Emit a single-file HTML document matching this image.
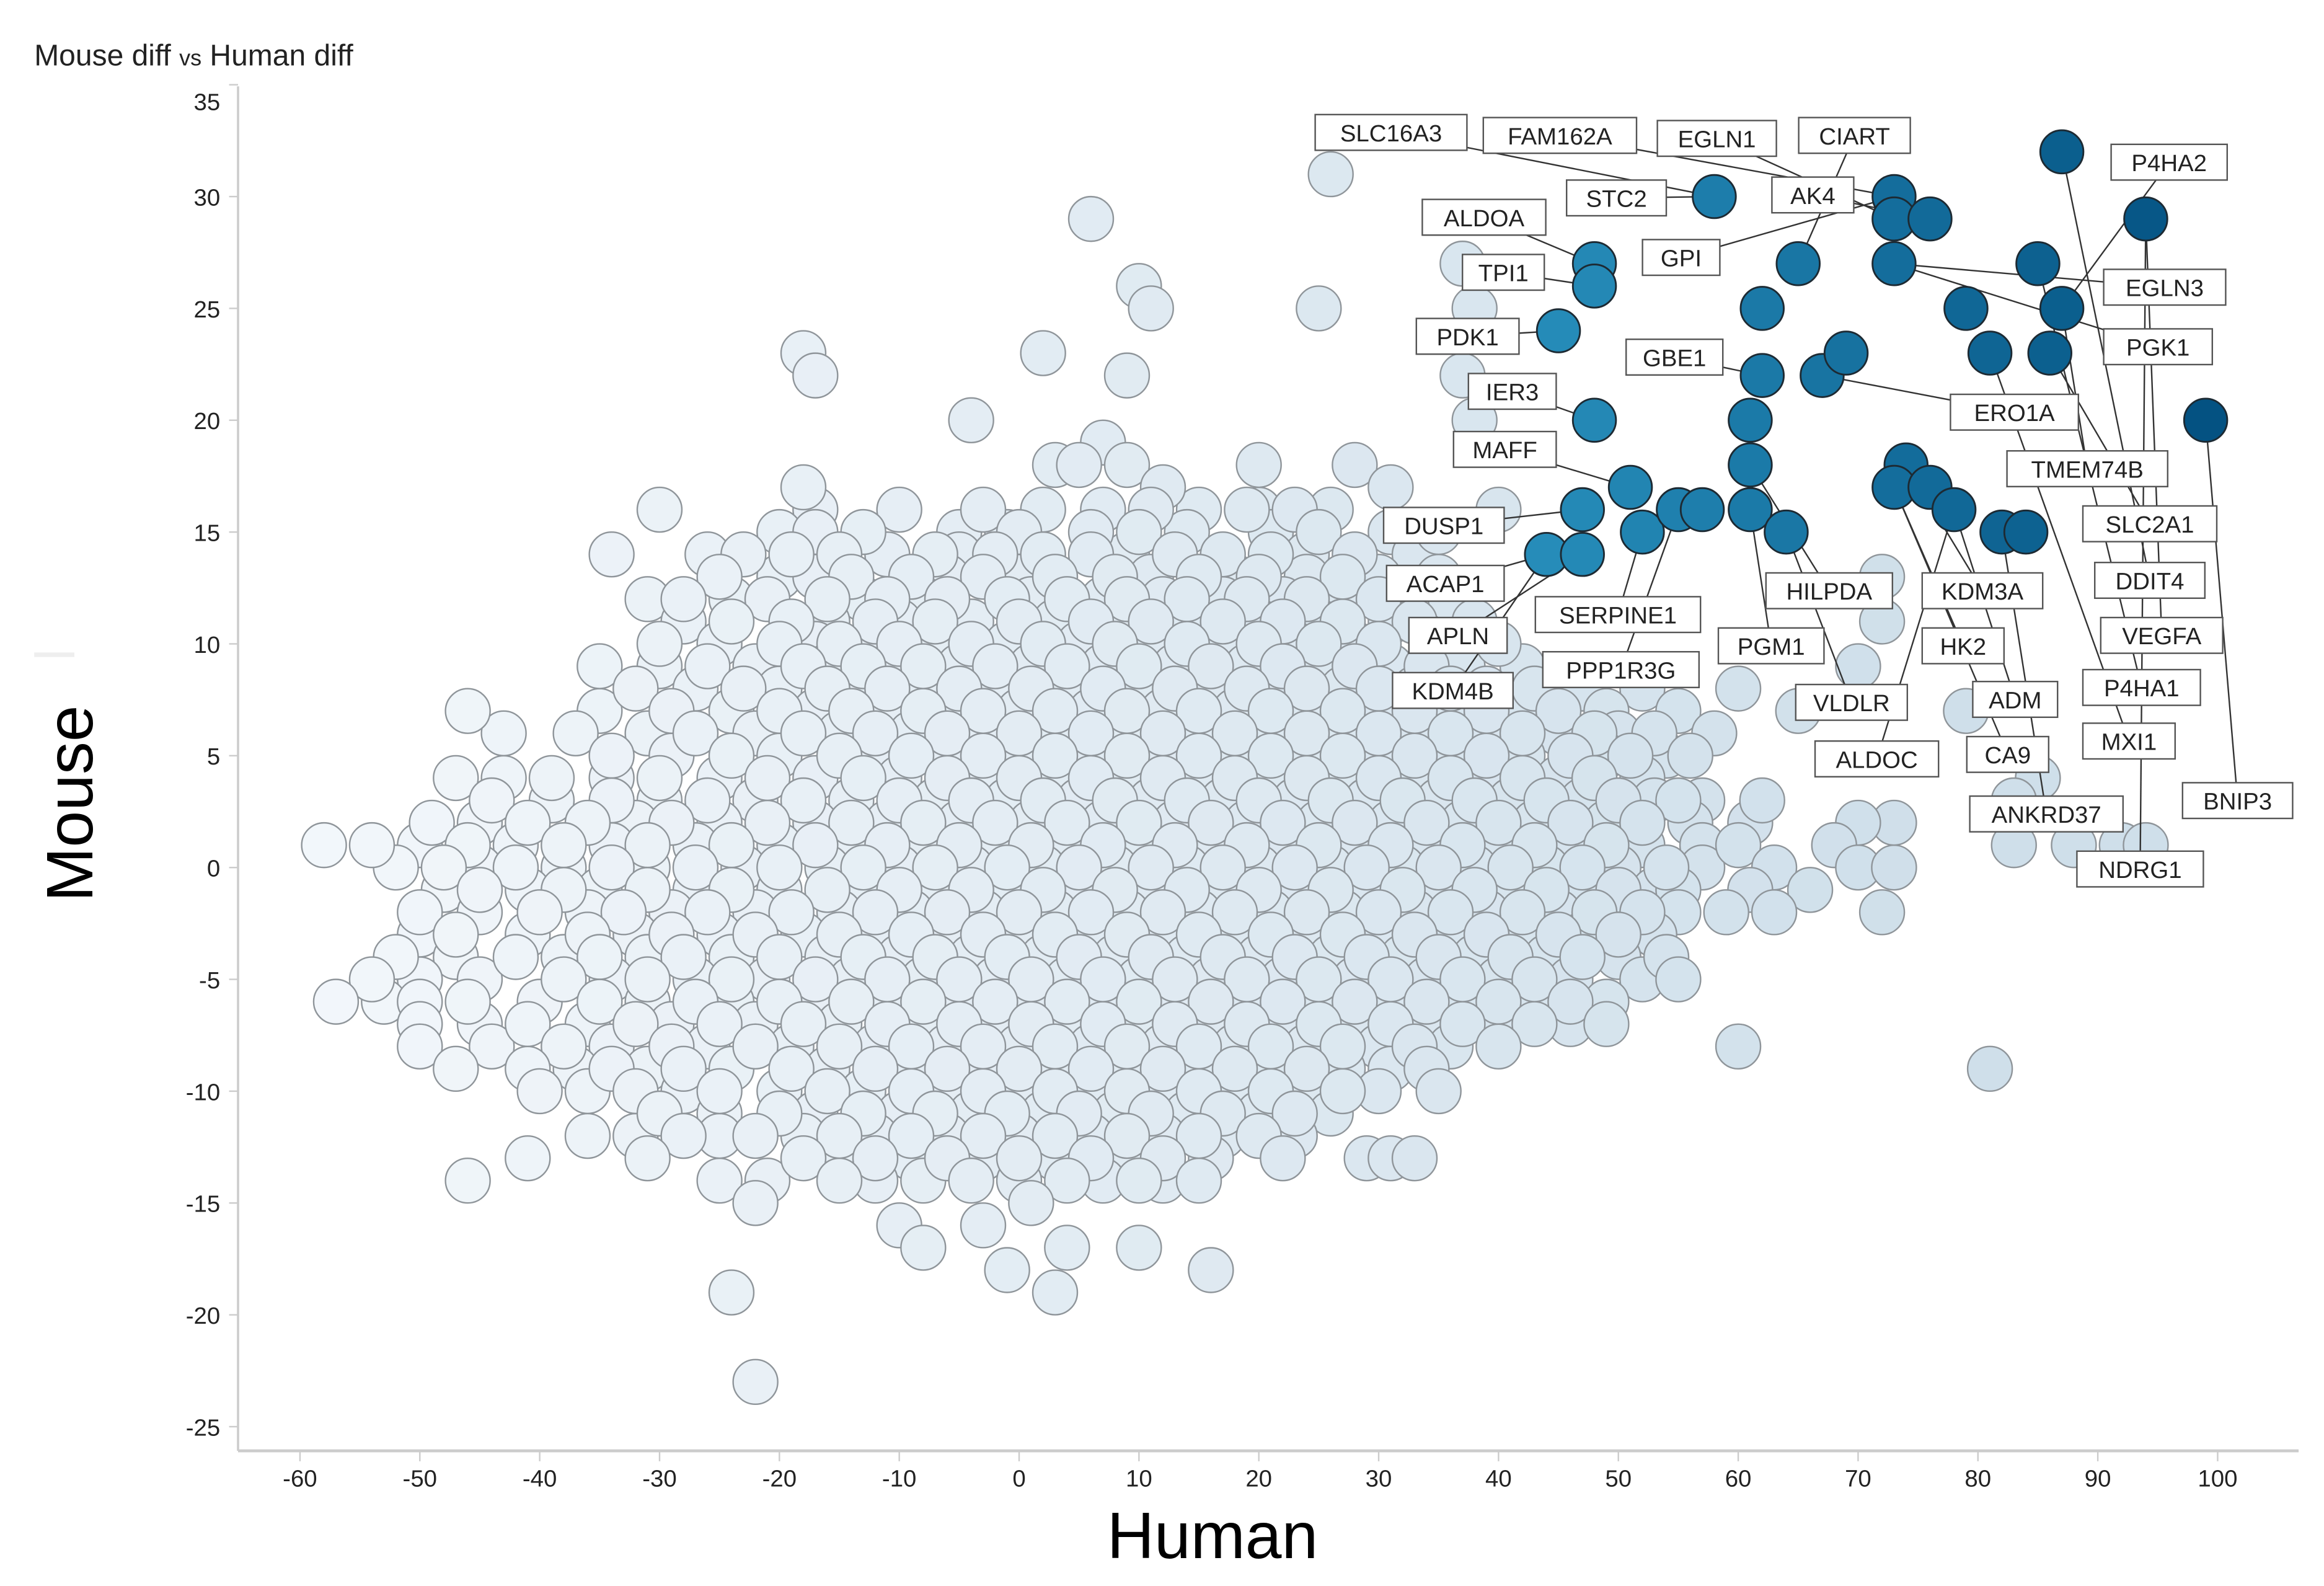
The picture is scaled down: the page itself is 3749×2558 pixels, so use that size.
<!DOCTYPE html>
<html><head><meta charset="utf-8">
<style>
html,body{margin:0;padding:0;background:#fff;}
svg{display:block;font-family:"Liberation Sans",Arial,sans-serif;}
</style></head>
<body>
<svg id="chart" width="3749" height="2558" viewBox="0 0 1562.08 1065.83" xmlns="http://www.w3.org/2000/svg">
<text x="23" y="44" font-size="20" fill="#222">Mouse diff <tspan font-size="15">vs</tspan> Human diff</text>
<g id="axes"></g>
<g id="bg"></g>
<g id="links"></g>
<g id="hl"></g>
<g id="labels"></g>
<text transform="translate(62,540) rotate(-90)" text-anchor="middle" font-size="44" fill="#000">Mouse</text>
<text x="815" y="1047" text-anchor="middle" font-size="44" fill="#000">Human</text>
<line x1="23" y1="440" x2="50" y2="440" stroke="#eee" stroke-width="3"/>
</svg>
<script>
const xTicks=[-60,-50,-40,-30,-20,-10,0,10,20,30,40,50,60,70,80,90,100];
const yTicks=[35,30,25,20,15,10,5,0,-5,-10,-15,-20,-25];
// background rows: y value followed by x values
const bgRows=[
"31:26","29:6","26:10","25:11,25,38","27:37","23:-18,2","22:-17,9,37","20:-4,38","19:7","18:3,5,9,20,28",
"17:-18,12,31","16:-30,-10,-3,11,19,23,40","15:-17,-13,0,6,10,25,35",
"14:-34,-23,-19,-15,-7,-2,2,6,13,17,21,28","13:-25,-14,-9,-3,3,8,15,20,27,72",
"12:-28,-21,-16,-11,-6,-1,4,9,14,19,24,30","11:-24,-19,-12,-7,0,6,11,17,22,27,33,72",
"10:-30,-20,-15,-10,-4,2,8,14,20,25,30,40","9:-35,-26,-18,-13,-8,-2,4,10,16,22,28,34,70",
"8:-32,-23,-16,-11,-5,1,7,13,19,24,30,36,43,60","7:-46,-29,-20,-14,-8,-3,3,9,15,21,27,33,39,45,65,79",
"6:-37,-27,-18,-12,-6,0,6,12,18,24,30,36,42,48,53","5:-34,-24,-15,-9,-3,3,9,15,21,27,33,39,46,51,56",
"4:-47,-39,-30,-21,-13,-6,0,6,12,18,24,30,36,42,48,85","3:-44,-34,-26,-18,-10,-4,2,8,14,20,26,32,38,44,50,55,62,83",
"2:-49,-41,-36,-29,-21,-14,-8,-2,4,10,16,22,28,34,40,46,52,70",
"1:-58,-54,-46,-38,-31,-24,-17,-11,-5,1,7,13,19,25,31,37,43,49,60,68,83,88,92,94",
"0:-48,-42,-34,-27,-20,-13,-7,-1,5,11,17,23,29,35,41,47,54,63,70,73",
"-1:-45,-38,-31,-24,-16,-10,-4,2,8,14,20,26,32,38,44,50,61,66",
"-2:-50,-40,-33,-26,-19,-12,-6,0,6,12,18,24,30,36,42,48,52,59,63,72",
"-3:-47,-36,-29,-22,-15,-9,-3,3,9,15,21,27,33,39,45,50",
"-4:-52,-42,-35,-28,-20,-13,-7,-1,5,11,17,23,29,35,41,47,54",
"-5:-54,-38,-31,-24,-17,-11,-5,1,7,13,19,25,31,37,43,55",
"-6:-57,-50,-46,-35,-27,-20,-14,-8,-2,4,10,16,22,28,34,40,46",
"-7:-50,-41,-32,-25,-18,-11,-5,1,7,13,19,25,31,37,43,49",
"-8:-50,-38,-29,-22,-15,-9,-3,3,9,15,21,27,33,40,60",
"-9:-47,-41,-34,-28,-19,-12,-6,0,6,12,18,24,34,81",
"-10:-40,-32,-25,-16,-9,-3,3,9,15,21,27,35",
"-11:-30,-20,-13,-7,-1,5,11,17,23","-12:-36,-28,-22,-15,-9,-3,3,9,15,20",
"-13:-41,-31,-18,-12,-6,0,6,12,22,29,31,33","-14:-46,-25,-15,-4,4,10,15",
"-15:-22,1","-16:-10,-3","-17:-8,4,10","-18:-1,16","-19:-24,3","-23:-22"
];
// additional overlapping points filling the dense core
const bgRows2=[
"16:-17,2,7,15,20,26","15:-20,-5,-1,14,21,31",
"14:-26,-11,-5,9,24,33","13:-20,-17,-6,0,11,18,24,30,35",
"12:-31,-24,-13,-8,1,7,12,17,22,27,36","11:-28,-16,-10,-4,3,9,14,20,25,31,38",
"10:-25,-17,-12,-7,-1,5,11,17,23,28,35","9:-30,-22,-16,-10,-5,1,7,13,19,25,31,37,42",
"8:-27,-20,-13,-8,-2,4,10,16,22,27,33,39,47,52","7:-35,-24,-17,-11,-5,0,6,12,18,24,30,36,42,49,55",
"6:-43,-31,-22,-15,-9,-3,3,9,15,21,27,33,39,45,50,58","5:-29,-20,-12,-6,0,6,12,18,24,30,36,42,49,54",
"4:-43,-34,-25,-17,-10,-3,3,9,15,21,27,33,39,45,52","3:-39,-30,-22,-14,-7,-1,5,11,17,23,29,35,41,47,53,57",
"2:-45,-32,-25,-17,-11,-5,1,7,13,19,25,31,37,43,49,56,61,73",
"1:-50,-42,-34,-27,-20,-14,-8,-2,4,10,16,22,28,34,40,46,52,57",
"0:-52,-45,-38,-31,-23,-16,-10,-4,2,8,14,20,26,32,38,44,50,57",
"-1:-48,-41,-35,-27,-20,-13,-7,-1,5,11,17,23,29,35,41,47,53,55",
"-2:-45,-36,-29,-22,-15,-9,-3,3,9,15,21,27,33,39,45,55",
"-3:-50,-41,-32,-25,-18,-12,-6,0,6,12,18,24,30,36,42,47,53",
"-4:-47,-38,-31,-24,-16,-10,-4,2,8,14,20,26,32,38,44,50",
"-5:-50,-45,-34,-27,-21,-14,-8,-2,4,10,16,22,28,34,40,46,52",
"-6:-53,-40,-31,-24,-17,-11,-5,1,7,13,19,25,31,37,43,49",
"-7:-45,-36,-29,-22,-15,-8,-2,4,10,16,22,28,34,40,46",
"-8:-44,-34,-26,-19,-12,-6,0,6,12,18,24,30,36",
"-9:-37,-31,-24,-16,-9,-3,3,9,15,21,27,31",
"-10:-36,-28,-20,-13,-6,0,6,12,18,24,30",
"-11:-25,-17,-10,-4,2,8,14,20,26","-12:-32,-25,-18,-12,-6,0,6,12,17,23",
"-13:-15,-9,-3,3,9,16","-14:-21,-12,-8,0,7,12"
];
const hlX=[58,73,73,76,65,87,94,85,87,73,79,81,86,99,48,48,45,48,62,62,67,69,61,61,61,64,51,47,52,55,57,44,47,74,73,76,78,82,84];
const hlY=[30,30,29,29,27,32,29,27,25,27,25,23,23,20,27,26,24,20,25,22,22,23,20,18,16,15,17,16,15,16,16,14,14,18,17,17,16,15,15];
const labelNames=["SLC16A3","FAM162A","EGLN1","CIART","P4HA2","STC2","AK4","ALDOA","GPI","TPI1","EGLN3","PDK1","PGK1","GBE1","IER3","ERO1A","MAFF","TMEM74B","DUSP1","SLC2A1","ACAP1","HILPDA","KDM3A","DDIT4","SERPINE1","APLN","PGM1","HK2","VEGFA","PPP1R3G","KDM4B","VLDLR","ADM","P4HA1","MXI1","ALDOC","CA9","BNIP3","ANKRD37","NDRG1"];
const labelTarget=[0,1,2,4,8,0,3,14,1,15,9,16,9,19,17,20,26,8,27,12,31,23,33,5,28,32,24,34,6,29,31,25,36,7,11,36,34,13,37,6];
const boxes=[[884,77,102],[997,79,103],[1114,81,80],[1209,79,75],[1419,97,78],[1053,121,67],[1191,119,55],[956,134,83],[1104,161,52],[983,171,55],[1414,181,82],[952,214,69],[1414,221,73],[1093,228,65],[987,251,59],[1311,265,86],[977,290,69],[1349,303,108],[930,341,81],[1400,340,90],[932,380,79],[1187,385,85],[1292,385,81],[1408,378,74],[1032,401,111],[947,415,66],[1155,422,71],[1292,422,55],[1412,415,82],[1037,438,105],[936,452,81],[1207,460,75],[1326,458,57],[1400,450,79],[1400,486,62],[1220,498,83],[1322,495,55],[1467,526,74],[1324,535,103],[1396,572,85]];

const NS="http://www.w3.org/2000/svg";
const X=v=>685+8.056*v, Y=v=>583-15.03*v;
function mk(t,a,p){const e=document.createElementNS(NS,t);for(const k in a)e.setAttribute(k,a[k]);p.appendChild(e);return e;}
const axes=document.getElementById('axes');
const ya=mk('line',{x1:160,y1:58,x2:160,y2:975,stroke:'#ccc','stroke-width':1.5},axes);

const xa=mk('line',{x1:160,y1:975,x2:1545,y2:975,stroke:'#ccc','stroke-width':2},axes);

yTicks.forEach(t=>{const y=Y(t);mk('line',{x1:154,y1:y,x2:160,y2:y,stroke:'#ccc'},axes);
 const tx=mk('text',{x:148,y:(t===35?68:y)+6,'text-anchor':'end','font-size':16,fill:'#222'},axes);tx.textContent=t;
 });
xTicks.forEach(t=>{const x=X(t);mk('line',{x1:x,y1:975,x2:x,y2:982,stroke:'#ccc'},axes);
 const tx=mk('text',{x:x,y:999,'text-anchor':'middle','font-size':16,fill:'#222'},axes);tx.textContent=t;
 });
const bg=document.getElementById('bg');
function bgFill(x){const f=Math.max(0,Math.min(1,(x+60)/135));const r=Math.round(243-f*36),g=Math.round(247-f*24),b=Math.round(251-f*17);return `rgb(${r},${g},${b})`;}
function drawRows(rows){rows.forEach(row=>{const [ys,xs]=row.split(':');const yv=+ys;xs.split(',').forEach(s=>{const xv=+s;
 const c=mk('circle',{cx:X(xv),cy:Y(yv),r:15,fill:bgFill(xv),stroke:'#8f959a','stroke-width':1},bg);
 });});}
drawRows(bgRows2);
drawRows(bgRows);
const links=document.getElementById('links');
labelNames.forEach((n,i)=>{const b=boxes[i],t=labelTarget[i];const bx=b[0]+b[2]/2,by=b[1]+12;
 const l=mk('line',{x1:bx,y1:by,x2:X(hlX[t]),y2:Y(hlY[t]),stroke:'#333','stroke-width':1},links);
 });
const hl=document.getElementById('hl');
hlX.forEach((xv,i)=>{const f=Math.max(0,Math.min(1,(xv-44)/55));const r=Math.round(38-f*34),g=Math.round(140-f*58),b=Math.round(185-f*55);
 const c=mk('circle',{cx:X(xv),cy:Y(hlY[i]),r:14.5,fill:`rgb(${r},${g},${b})`,stroke:'#1d2a33','stroke-width':1.2},hl);
 });
const lg=document.getElementById('labels');
labelNames.forEach((n,i)=>{const b=boxes[i];
 const g=mk('g',{},lg);
 mk('rect',{x:b[0],y:b[1],width:b[2],height:24,fill:'#fff',stroke:'#555','stroke-width':1},g);
 const t=mk('text',{x:b[0]+b[2]/2,y:b[1]+18,'text-anchor':'middle','font-size':16,fill:'#222'},g);t.textContent=n;});
</script>
</body></html>
